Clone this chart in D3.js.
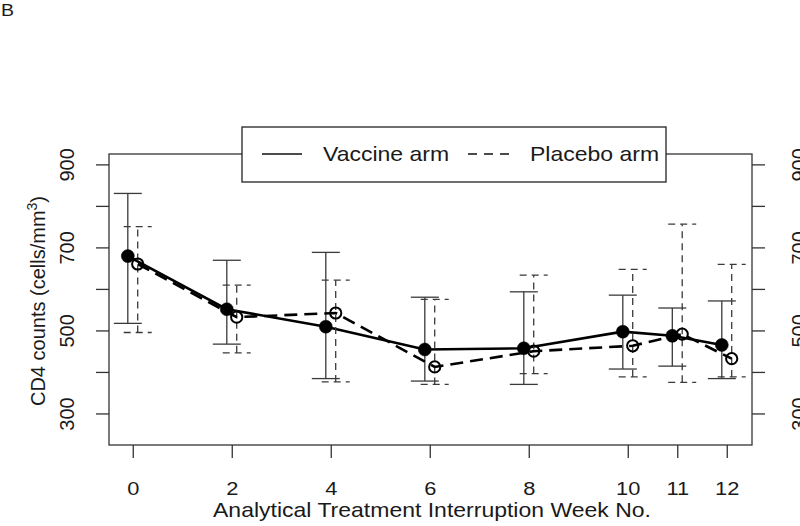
<!DOCTYPE html>
<html>
<head>
<meta charset="utf-8">
<script src="https://cdn.jsdelivr.net/npm/d3@7"></script>
<style>
  html, body { margin: 0; padding: 0; background: #fff; }
  svg { display: block; }
  text { font-family: "Liberation Sans", Arial, Helvetica, sans-serif; fill: #1a1a1a; }
</style>
</head>
<body>
<svg id="chart" width="800" height="526"></svg>
<script>
// ---- data ----
const weeks = [0, 2, 4, 6, 8, 10, 11, 12];
const vaccineMean  = [679, 551, 509, 454, 457, 497, 487, 465];
const vaccineLower = [517, 467, 384, 378, 370, 407, 414, 384];
const vaccineUpper = [830, 669, 688, 580, 593, 585, 554, 571];
const placeboMean  = [660, 532, 542, 412, 450, 463, 491, 432];
const placeboLower = [495, 446, 376, 370, 396, 388, 375, 388];
const placeboUpper = [750, 609, 621, 575, 633, 647, 756, 659];
const yTickValues = [300, 400, 500, 600, 700, 800, 900];
const yTickLabels = ["300", "", "500", "", "700", "", "900"];
const seriesNames = ["Vaccine arm", "Placebo arm"];
const panelLabel = "B";
const xTitle = "Analytical Treatment Interruption Week No.";

// ---- layout ----
const SX = 1.15;          // horizontal stretch of the reference's text
const FS = 20;
const box = { left: 109, right: 752, top: 154, bottom: 445 };
const svg = d3.select("#chart");

const x = d3.scaleLinear().domain([-0.48, 12.51]).range([box.left, box.right]);
const y = d3.scaleLinear().domain([224, 925]).range([box.bottom, box.top]);

const boxColor = "#333";
const barColor = "#3a3a3a";

// panel label
svg.append("text")
  .attr("transform", `translate(1,15.5) scale(${SX},1)`)
  .attr("font-size", 17)
  .text(panelLabel);

// ---- axes ----
const axisStyle = g => {
  g.select(".domain").remove();
  g.selectAll(".tick line").attr("stroke", boxColor).attr("stroke-width", 1.3);
  g.selectAll(".tick text").attr("font-size", FS).attr("fill", "#1a1a1a");
};

const tickFmt = d => yTickLabels[yTickValues.indexOf(d)];

const gLeft = svg.append("g").attr("transform", `translate(${box.left},0)`)
  .call(d3.axisLeft(y).tickValues(yTickValues).tickSize(13).tickFormat(tickFmt))
  .call(axisStyle);
gLeft.selectAll(".tick text")
  .attr("x", null).attr("dy", null)
  .attr("text-anchor", "middle")
  .attr("transform", `translate(${74 - box.left},0) rotate(-90)`);

const gRight = svg.append("g").attr("transform", `translate(${box.right},0)`)
  .call(d3.axisRight(y).tickValues(yTickValues).tickSize(13).tickFormat(tickFmt))
  .call(axisStyle);
gRight.selectAll(".tick text")
  .attr("x", null).attr("dy", null)
  .attr("text-anchor", "middle")
  .attr("transform", `translate(${806 - box.right},0) rotate(-90)`);

const gBottom = svg.append("g").attr("transform", `translate(0,${box.bottom})`)
  .call(d3.axisBottom(x).tickValues(weeks).tickSize(13).tickFormat(d3.format("d")))
  .call(axisStyle);
gBottom.selectAll(".tick text")
  .attr("y", null).attr("dy", null)
  .attr("font-size", 19)
  .attr("text-anchor", "middle")
  .attr("transform", `translate(0,${495 - box.bottom}) scale(${SX},1)`);

// axis titles
svg.append("text")
  .attr("transform", `translate(432,517) scale(${SX},1)`)
  .attr("text-anchor", "middle")
  .attr("font-size", FS)
  .text(xTitle);

const yl = svg.append("text")
  .attr("transform", `translate(45,301) rotate(-90)`)
  .attr("text-anchor", "middle")
  .attr("font-size", FS);
yl.append("tspan").text("CD4 counts (cells/mm");
yl.append("tspan").attr("font-size", 14).attr("dy", -8).text("3");
yl.append("tspan").attr("dy", 8).text(")");

// plot box
svg.append("rect")
  .attr("x", box.left).attr("y", box.top)
  .attr("width", box.right - box.left).attr("height", box.bottom - box.top)
  .attr("fill", "none").attr("stroke", boxColor).attr("stroke-width", 1.3);

// ---- series ----
const series = [
  { mean: vaccineMean, lo: vaccineLower, hi: vaccineUpper, off: -0.1, dashLine: null, dashBar: null, filled: true },
  { mean: placeboMean, lo: placeboLower, hi: placeboUpper, off: 0.1, dashLine: "13,7", dashBar: "7,5", filled: false }
];
const capHalf = 14;

series.forEach(s => {
  const pts = weeks.map((w, i) => ({ w, m: s.mean[i], lo: s.lo[i], hi: s.hi[i] }));
  const g = svg.append("g");
  const eb = g.selectAll("g.eb").data(pts).join("g")
    .attr("stroke", barColor).attr("stroke-width", 1.3).attr("fill", "none")
    .attr("stroke-dasharray", s.dashBar);
  eb.append("line")
    .attr("x1", d => x(d.w + s.off)).attr("x2", d => x(d.w + s.off))
    .attr("y1", d => y(d.lo)).attr("y2", d => y(d.hi));
  eb.append("line")
    .attr("x1", d => x(d.w + s.off) - capHalf).attr("x2", d => x(d.w + s.off) + capHalf)
    .attr("y1", d => y(d.hi)).attr("y2", d => y(d.hi));
  eb.append("line")
    .attr("x1", d => x(d.w + s.off) - capHalf).attr("x2", d => x(d.w + s.off) + capHalf)
    .attr("y1", d => y(d.lo)).attr("y2", d => y(d.lo));
  s.pts = pts;
  s.g = g;
});

series.forEach(s => {
  const line = d3.line().x(d => x(d.w + s.off)).y(d => y(d.m));
  s.g.append("path").datum(s.pts)
    .attr("d", line)
    .attr("fill", "none").attr("stroke", "#000").attr("stroke-width", 2.6)
    .attr("stroke-dasharray", s.dashLine);
});

series.forEach(s => {
  s.g.selectAll("circle").data(s.pts).join("circle")
    .attr("cx", d => x(d.w + s.off)).attr("cy", d => y(d.m))
    .attr("r", s.filled ? 6.5 : 5.6)
    .attr("fill", s.filled ? "#000" : "none")
    .attr("stroke", "#000")
    .attr("stroke-width", s.filled ? 0.5 : 2);
});

// ---- legend ----
const lg = svg.append("g");
lg.append("rect")
  .attr("x", 242).attr("y", 127).attr("width", 424).attr("height", 55)
  .attr("fill", "#fff").attr("stroke", "#222").attr("stroke-width", 1.3);
const legendItems = [
  { name: seriesNames[0], x1: 262, x2: 302, tx: 323, dash: null },
  { name: seriesNames[1], x1: 468, x2: 509, tx: 530, dash: "9,7" }
];
legendItems.forEach(it => {
  lg.append("line")
    .attr("x1", it.x1).attr("x2", it.x2).attr("y1", 154).attr("y2", 154)
    .attr("stroke", "#111").attr("stroke-width", 1.5)
    .attr("stroke-dasharray", it.dash);
  lg.append("text")
    .attr("transform", `translate(${it.tx},161) scale(${SX},1)`)
    .attr("font-size", FS)
    .text(it.name);
});
</script>
</body>
</html>
